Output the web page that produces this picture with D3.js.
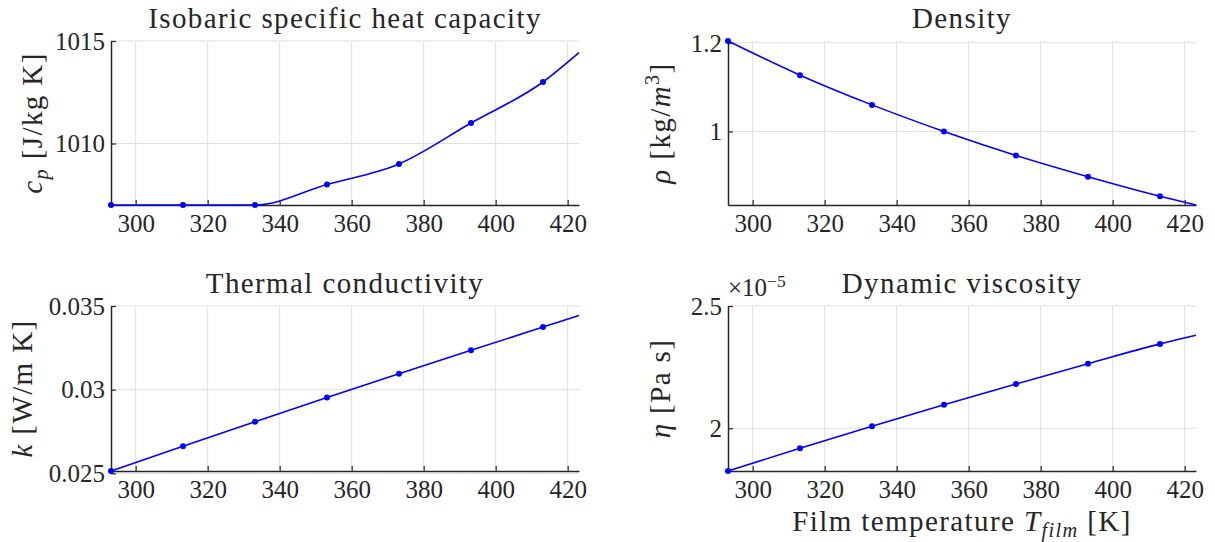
<!DOCTYPE html>
<html>
<head>
<meta charset="utf-8">
<script src="https://cdn.jsdelivr.net/npm/d3@7"></script>
<style>
  html, body { margin: 0; padding: 0; background: #fff; }
  svg { display: block; }
  svg text { font-family: 'Liberation Serif', 'DejaVu Serif', serif !important; fill: #262626; }
  .lbl { letter-spacing: 1.4px; }
</style>
</head>
<body>
<svg id="chart" width="1215" height="542"></svg>
<script>
// ---------------- data ----------------
const temperatures = [293.15, 313.15, 333.15, 353.15, 373.15, 393.15, 413.15];
const tempEnd = 423.15;
const cpValues = [1007, 1007, 1007, 1008, 1009, 1011, 1013];
const cpEnd = 1014.43;
const rhoValues = [1.204, 1.127, 1.060, 1.000, 0.946, 0.898, 0.854];
const rhoEnd = 0.8343;
const kValues = [0.02514, 0.02662, 0.02808, 0.02953, 0.03095, 0.03235, 0.03374];
const kEnd = 0.03443;
const etaValues = [1.825e-5, 1.918e-5, 2.008e-5, 2.096e-5, 2.181e-5, 2.264e-5, 2.345e-5];
const etaEnd = 2.38e-5;

const xTicks = [300, 320, 340, 360, 380, 400, 420];
const cpTicks = [1010, 1015];
const cpTickLabels = ["1010", "1015"];
const rhoTicks = [1.0, 1.2];
const rhoTickLabels = ["1", "1.2"];
const kTicks = [0.025, 0.03, 0.035];
const kTickLabels = ["0.025", "0.03", "0.035"];
const etaTicks = [2.0e-5, 2.5e-5];
const etaTickLabels = ["2", "2.5"];

const titles = ["Isobaric specific heat capacity", "Density", "Thermal conductivity", "Dynamic viscosity"];

// ---------------- layout ----------------
const svg = d3.select("#chart");
const FS = 25;
const LFS = 29;
const blue = "#0000ff";
const axisColor = "#262626";

const panels = [
  { title: titles[0], vals: cpValues, end: cpEnd, dom: [1007, 1015], ticks: cpTicks, tl: cpTickLabels,
    x0: 111, x1: 579, y0: 41, y1: 205,
    ylab: [["c", "it"], ["p", "sub"], [" [J/kg K]", "postsub"]], ylx: 42 },
  { title: titles[1], vals: rhoValues, end: rhoEnd, dom: [0.8343, 1.204], ticks: rhoTicks, tl: rhoTickLabels,
    x0: 728, x1: 1196, y0: 41, y1: 205,
    ylab: [["ρ", "it"], [" [kg/", ""], ["m", "it"], ["3", "sup"], ["]", "postsup"]], ylx: 670 },
  { title: titles[2], vals: kValues, end: kEnd, dom: [0.02514, 0.035], ticks: kTicks, tl: kTickLabels,
    x0: 111, x1: 579, y0: 306, y1: 471,
    ylab: [["k", "it"], [" [W/m K]", ""]], ylx: 32 },
  { title: titles[3], vals: etaValues, end: etaEnd, dom: [1.825e-5, 2.5e-5], ticks: etaTicks, tl: etaTickLabels,
    x0: 728, x1: 1196, y0: 306, y1: 471,
    ylab: [["η", "it"], [" [Pa s]", ""]], ylx: 670 }
];

function richText(sel, parts, size) {
  parts.forEach(([t, kind]) => {
    const ts = sel.append("tspan").text(t);
    if (kind === "it") ts.attr("font-style", "italic");
    if (kind === "sub") ts.attr("font-style", "italic").attr("font-size", size * 0.7).attr("dy", size * 0.22);
    if (kind === "sup") ts.attr("font-size", size * 0.7).attr("dy", -size * 0.38);
    if (kind === "postsup") ts.attr("dy", size * 0.38);
    if (kind === "postsub") ts.attr("dy", -size * 0.22);
  });
}

panels.forEach((p, i) => {
  const x = d3.scaleLinear().domain([293.15, 423.15]).range([p.x0, p.x1]);
  const y = d3.scaleLinear().domain(p.dom).range([p.y1, p.y0]);
  const g = svg.append("g");

  // grid
  g.selectAll(".vg").data(xTicks).enter().append("line")
    .attr("x1", d => x(d)).attr("x2", d => x(d)).attr("y1", p.y0).attr("y2", p.y1)
    .attr("stroke", "#dfdfdf").attr("stroke-width", 1);
  g.selectAll(".hg").data(p.ticks).enter().append("line")
    .attr("x1", p.x0).attr("x2", p.x1).attr("y1", d => y(d)).attr("y2", d => y(d))
    .attr("stroke", "#dfdfdf").attr("stroke-width", 1);

  // axes (inward ticks)
  const xAxis = d3.axisBottom(x).tickValues(xTicks).tickSizeInner(-5).tickSizeOuter(0).tickFormat(d3.format("d"));
  const gx = g.append("g").attr("transform", `translate(0,${p.y1})`).call(xAxis);
  const yAxis = d3.axisLeft(y).tickValues(p.ticks).tickSizeInner(-5).tickSizeOuter(0)
    .tickFormat((d, j) => p.tl[j]);
  const gy = g.append("g").attr("transform", `translate(${p.x0},0)`).call(yAxis);

  [gx, gy].forEach(a => {
    a.attr("font-family", null).attr("font-size", FS);
    a.select(".domain").attr("stroke", axisColor).attr("stroke-width", 1.5);
    a.selectAll(".tick line").attr("stroke", axisColor).attr("stroke-width", 1.2);
    a.selectAll(".tick text").attr("font-size", FS).attr("fill", axisColor);
  });
  gx.selectAll(".tick text").attr("y", 9).attr("dy", "0.71em");
  gy.selectAll(".tick text").attr("x", -6).attr("dy", "0.33em");

  // line
  const pts = temperatures.map((t, j) => [t, p.vals[j]]).concat([[tempEnd, p.end]]);
  const line = d3.line().x(d => x(d[0])).y(d => y(d[1])).curve(d3.curveMonotoneX);
  g.append("path").datum(pts).attr("d", line)
    .attr("fill", "none").attr("stroke", blue).attr("stroke-width", 1.6);
  g.selectAll(".mk").data(temperatures.map((t, j) => [t, p.vals[j]])).enter().append("circle")
    .attr("cx", d => x(d[0])).attr("cy", d => y(d[1])).attr("r", 3).attr("fill", blue);

  // title
  g.append("text").attr("class", "lbl").attr("x", (p.x0 + p.x1) / 2).attr("y", p.y0 - 13)
    .attr("text-anchor", "middle").attr("font-size", LFS).text(p.title);

  // y label
  const yl = g.append("text").attr("class", "lbl")
    .attr("transform", `translate(${p.ylx},${(p.y0 + p.y1) / 2}) rotate(-90)`)
    .attr("text-anchor", "middle").attr("font-size", LFS);
  richText(yl, p.ylab, LFS);
});

// x label (bottom right)
const xl = svg.append("text").attr("class", "lbl").attr("x", 962).attr("y", 531).attr("text-anchor", "middle").attr("font-size", LFS);
richText(xl, [["Film temperature ", ""], ["T", "it"], ["film", "sub"], [" [K]", "postsub"]], LFS);

// exponent label for viscosity
const ex = svg.append("text").attr("x", 728).attr("y", 296).attr("font-size", FS).attr("fill", axisColor);
ex.append("tspan").text("×10");
ex.append("tspan").text("−5").attr("font-size", FS * 0.7).attr("dy", -FS * 0.38);
</script>
</body>
</html>
